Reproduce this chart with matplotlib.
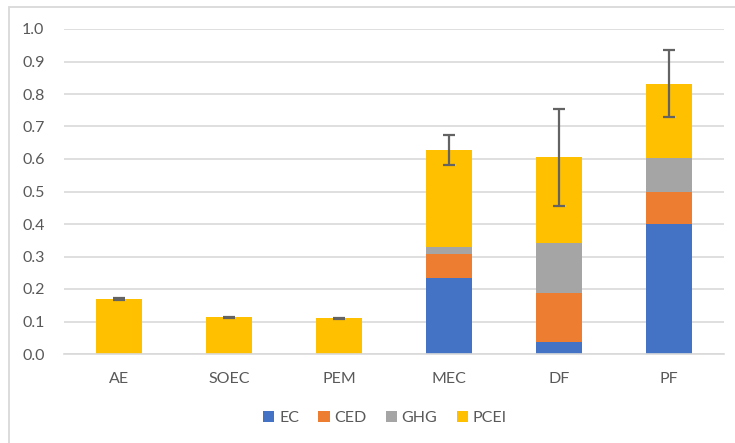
"""Stacked impact scores with error bars per technology."""
import matplotlib
matplotlib.use('Agg')
import matplotlib.pyplot as plt
from matplotlib.patches import Rectangle
import numpy as np

CATEGORIES = ['AE', 'SOEC', 'PEM', 'MEC', 'DF', 'PF']
EC = [0.0, 0.0, 0.0, 0.234, 0.038, 0.400]
CED = [0.0, 0.0, 0.0, 0.073, 0.151, 0.100]
GHG = [0.0, 0.0, 0.0, 0.023, 0.153, 0.102]
PCEI = [0.170, 0.113, 0.110, 0.298, 0.263, 0.230]
ERR = [0.003, 0.002, 0.002, 0.046, 0.150, 0.103]

SERIES = [('EC', EC, '#4472C4'), ('CED', CED, '#ED7D31'),
          ('GHG', GHG, '#A5A5A5'), ('PCEI', PCEI, '#FFC000')]

TEXT = '#595959'
GRID = '#D9D9D9'
FS = 11.5


def main():
    plt.rcParams['font.family'] = ['Lato', 'DejaVu Sans']
    plt.rcParams['font.size'] = FS

    fig = plt.figure(figsize=(7.35, 4.43), dpi=100)
    ax = fig.add_axes([64 / 735, 1 - 354 / 443, 660 / 735, 325 / 443])

    x = np.arange(len(CATEGORIES))
    bottom = np.zeros(len(CATEGORIES))
    for name, vals, color in SERIES:
        vals = np.array(vals)
        ax.bar(x, vals, 0.41, bottom=bottom, color=color, label=name,
               zorder=2)
        bottom += vals

    ax.errorbar(x, bottom, yerr=ERR, fmt='none', ecolor='#636363',
                elinewidth=1.6, capsize=4.5, capthick=1.6, zorder=3)

    ax.set_xlim(-0.5, len(CATEGORIES) - 0.5)
    ax.set_ylim(0, 1.0)
    ax.set_yticks(np.arange(0, 1.01, 0.1))
    ax.set_yticklabels([f'{v:.1f}' for v in np.arange(0, 1.01, 0.1)])
    ax.set_xticks(x)
    ax.set_xticklabels(CATEGORIES)
    ax.tick_params(length=0, colors=TEXT, labelsize=FS)
    ax.tick_params(axis='y', pad=14)
    ax.tick_params(axis='x', pad=13)
    ax.grid(axis='y', color=GRID, linewidth=1.2, zorder=0)
    ax.set_axisbelow(True)
    for side in ('top', 'right', 'left'):
        ax.spines[side].set_visible(False)
    ax.spines['bottom'].set_color(GRID)
    ax.spines['bottom'].set_linewidth(1.2)

    fig.legend(loc='center', bbox_to_anchor=(385 / 735, 1 - 418 / 443),
               ncol=4, frameon=False, handlelength=0.7, handleheight=0.7,
               handletextpad=0.3, columnspacing=1.2, labelcolor=TEXT,
               fontsize=FS)

    # chart frame
    fig.patches.append(Rectangle((9 / 735, -0.1), 1.2, 0.1 + 1 - 7 / 443,
                                 transform=fig.transFigure, fill=False,
                                 edgecolor=GRID, linewidth=1.3))

    fig.savefig('out.png', dpi=100)


if __name__ == '__main__':
    main()
